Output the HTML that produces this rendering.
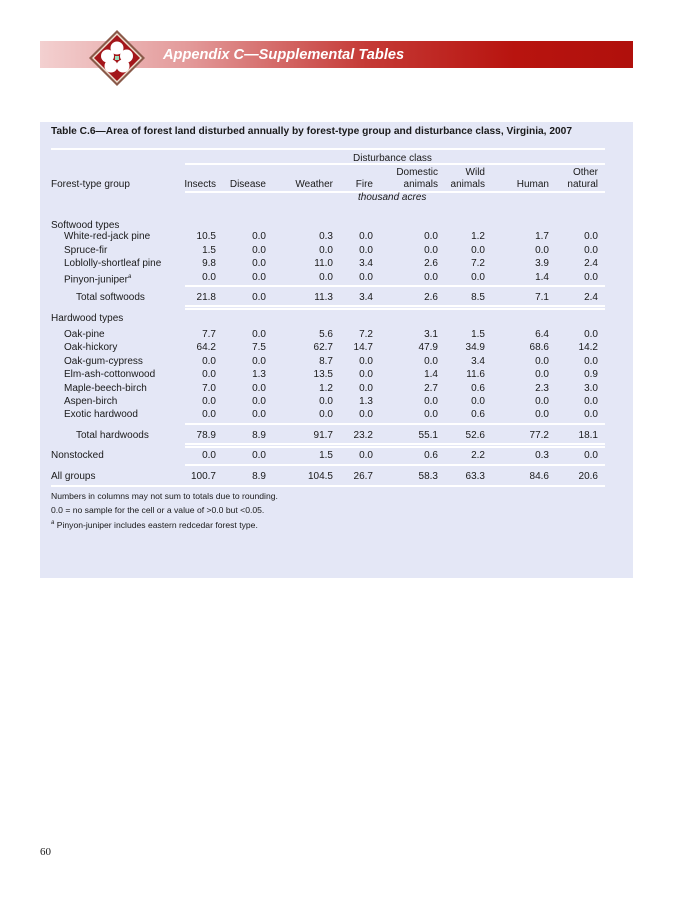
<!DOCTYPE html>
<html><head><meta charset="utf-8"><style>
body{margin:0;width:695px;height:900px;background:#fff;position:relative;font-family:"Liberation Sans",Arial,sans-serif;overflow:hidden}
.a{position:absolute;white-space:nowrap;font-size:10px;color:#1a1a1a;line-height:11px}
.r{text-align:right}
.ln{position:absolute;height:1.5px;background:#fff}
</style></head><body>
<div style="position:absolute;left:40px;top:41px;width:593px;height:27px;background:linear-gradient(90deg,#f3d0d0 0%,#e39a9a 25%,#c53a36 55%,#b8140f 80%,#b0100c 100%)"></div>
<svg style="position:absolute;left:88px;top:29px" width="58" height="58" viewBox="0 0 58 58">
<polygon points="29,1 57,29 29,57 1,29" fill="#8a5a4a"/>
<polygon points="29,4 54,29 29,54 4,29" fill="#f0e0d0"/>
<polygon points="29,6 52,29 29,52 6,29" fill="#a3161a"/>
<g fill="#fff"><circle cx="29" cy="19" r="6.5"/><circle cx="19.5" cy="27" r="6.5"/><circle cx="38.5" cy="27" r="6.5"/><circle cx="23" cy="37" r="6.5"/><circle cx="35" cy="37" r="6.5"/></g>
<rect x="27" y="27" width="4" height="4" fill="#9db"/>
</svg>
<div class="a" style="left:163px;top:47px;font-size:14.6px;line-height:16px;color:#fff;font-weight:bold;font-style:italic">Appendix C—Supplemental Tables</div>
<div style="position:absolute;left:40px;top:122px;width:593px;height:456px;background:#e4e7f6"></div>
<div class="a" style="left:51px;top:126px;font-weight:bold;font-size:10.2px">Table C.6—Area of forest land disturbed annually by forest-type group and disturbance class, Virginia, 2007</div>
<div id="t"></div>
<div class="a" style="left:51px;top:491px;font-size:8.6px">Numbers in columns may not sum to totals due to rounding.</div>
<div class="a" style="left:51px;top:505px;font-size:8.6px">0.0 = no sample for the cell or a value of &gt;0.0 but &lt;0.05.</div>
<div class="a" style="left:51px;top:518px;font-size:8.6px"><sup style="font-size:6px;font-style:italic">a</sup> Pinyon-juniper includes eastern redcedar forest type.</div>
<div class="a" style="left:40px;top:847px;font-size:11px;font-family:'Liberation Serif',serif">60</div>
<script>
const columns=["Insects","Disease","Weather","Fire","Domestic|animals","Wild|animals","Human","Other|natural"];
const rowLabels=["White-red-jack pine","Spruce-fir","Loblolly-shortleaf pine","Pinyon-juniper","Total softwoods","Oak-pine","Oak-hickory","Oak-gum-cypress","Elm-ash-cottonwood","Maple-beech-birch","Aspen-birch","Exotic hardwood","Total hardwoods","Nonstocked","All groups"];
const values=[
["10.5","0.0","0.3","0.0","0.0","1.2","1.7","0.0"],
["1.5","0.0","0.0","0.0","0.0","0.0","0.0","0.0"],
["9.8","0.0","11.0","3.4","2.6","7.2","3.9","2.4"],
["0.0","0.0","0.0","0.0","0.0","0.0","1.4","0.0"],
["21.8","0.0","11.3","3.4","2.6","8.5","7.1","2.4"],
["7.7","0.0","5.6","7.2","3.1","1.5","6.4","0.0"],
["64.2","7.5","62.7","14.7","47.9","34.9","68.6","14.2"],
["0.0","0.0","8.7","0.0","0.0","3.4","0.0","0.0"],
["0.0","1.3","13.5","0.0","1.4","11.6","0.0","0.9"],
["7.0","0.0","1.2","0.0","2.7","0.6","2.3","3.0"],
["0.0","0.0","0.0","1.3","0.0","0.0","0.0","0.0"],
["0.0","0.0","0.0","0.0","0.0","0.6","0.0","0.0"],
["78.9","8.9","91.7","23.2","55.1","52.6","77.2","18.1"],
["0.0","0.0","1.5","0.0","0.6","2.2","0.3","0.0"],
["100.7","8.9","104.5","26.7","58.3","63.3","84.6","20.6"]];
const colRight=[216,266,333,373,438,485,549,598];
const rowTop=[231,245,258,272,292,329,342,356,369,383,396,409,430,450,471];
const indent=[64,64,64,64,76,64,64,64,64,64,64,64,76,51,51];
const t=document.getElementById('t');
function add(txt,x,y,right,name,extra){const d=document.createElement('div');d.className='a'+(right?' r':'');d.innerHTML=txt;
if(right){d.style.left=(x-80)+'px';d.style.width='80px';}else d.style.left=x+'px';
d.style.top=y+'px';if(extra)d.style.cssText+=extra;


t.appendChild(d);}
function line(x1,x2,y,name){const d=document.createElement('div');d.className='ln';d.style.left=x1+'px';d.style.width=(x2-x1)+'px';d.style.top=y+'px';


t.appendChild(d);}
line(51,605,148,'rule-top');
add('Disturbance class',353,153,false,'disturbance-class-header');
line(185,605,163,'rule-disturbance');
columns.forEach((c,i)=>{const p=c.split('|');
if(p.length>1){add(p[0],colRight[i],167,true,'col-header-'+i+'-top');add(p[1],colRight[i],179,true,'col-header-'+i);}
else add(c,colRight[i],179,true,'col-header-'+i);});
add('Forest-type group',51,179,false,'col-header-forest-type');
line(185,605,191,'rule-header');
add('thousand acres',358,192,false,'units-label','font-style:italic');
add('Softwood types',51,220,false,'section-softwood');
add('Hardwood types',51,313,false,'section-hardwood');
rowLabels.forEach((l,r)=>{add(l+(r===3?'<sup style="font-size:6px;font-style:italic">a</sup>':''),indent[r],rowTop[r],false,'row-label-'+r);
values[r].forEach((v,i)=>add(v,colRight[i],rowTop[r],true,'cell-'+r+'-'+i));});
line(185,605,285,'rule-softwood-a');line(185,605,305,'rule-softwood-b');line(185,605,308,'rule-softwood-c');
line(185,605,423,'rule-hardwood-a');line(185,605,443,'rule-hardwood-b');line(185,605,446,'rule-hardwood-c');
line(185,605,464,'rule-nonstocked');line(51,605,485,'rule-bottom');
</script>
</body></html>
